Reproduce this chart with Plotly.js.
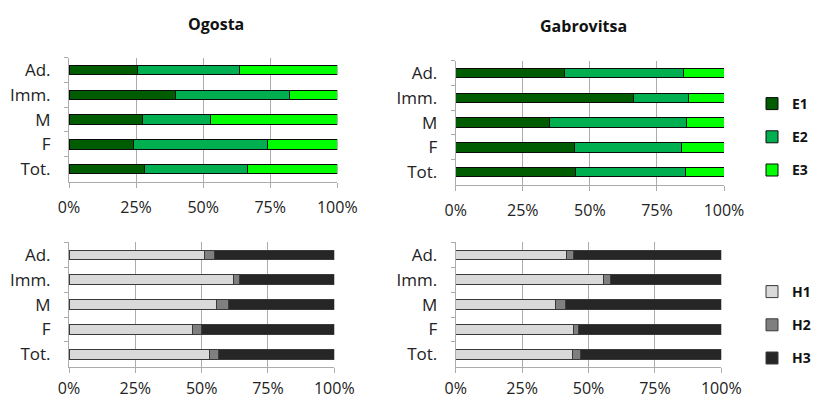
<!DOCTYPE html>
<html>
<head>
<meta charset="utf-8">
<script src="https://cdn.plot.ly/plotly-3.0.1.min.js"></script>
<style>
  html, body { margin: 0; padding: 0; background: #fff; }
  #chart { width: 814px; height: 398px; }
</style>
</head>
<body>
<div id="chart"></div>
<script>
// Categories, top to bottom
const categories = ['Ad.', 'Imm.', 'M', 'F', 'Tot.'];

// Share of E classes (%)
const ogostaE1 = [25.5, 39.8, 27.3, 24.0, 28.0];
const ogostaE2 = [38.0, 42.3, 25.6, 50.1, 38.5];
const ogostaE3 = [36.5, 17.9, 47.1, 25.9, 33.5];

const gabrovitsaE1 = [40.5, 66.2, 35.0, 44.2, 44.8];
const gabrovitsaE2 = [44.5, 20.6, 51.1, 39.9, 40.7];
const gabrovitsaE3 = [15.0, 13.2, 13.9, 15.9, 14.5];

// Share of H classes (%)
const ogostaH1 = [51.0, 61.9, 55.5, 46.4, 52.8];
const ogostaH2 = [4.0, 2.4, 4.5, 3.4, 3.7];
const ogostaH3 = [45.0, 35.7, 40.0, 50.2, 43.5];

const gabrovitsaH1 = [41.6, 55.6, 37.6, 44.5, 44.0];
const gabrovitsaH2 = [2.9, 2.7, 3.9, 1.9, 3.0];
const gabrovitsaH3 = [55.5, 41.7, 58.5, 53.6, 53.0];

const rivers = ['Ogosta', 'Gabrovitsa'];
const eNames = ['E1', 'E2', 'E3'];
const hNames = ['H1', 'H2', 'H3'];
const eColors = ['#005c00', '#00b050', '#00ff00'];
const hColors = ['#d9d9d9', '#7f7f7f', '#262626'];

const W = 814, H = 398;
const px = (a, b) => [a / W, b / W];
const py = (top, bottom) => [1 - bottom / H, 1 - top / H];

function bar(x, name, color, lineColor, xa, ya, legend, showlegend) {
  return {
    type: 'bar', orientation: 'h',
    x: x, y: categories, name: name,
    xaxis: xa, yaxis: ya,
    legend: legend, legendgroup: name, showlegend: showlegend,
    marker: { color: color, line: { color: lineColor, width: 1 } },
    hoverinfo: 'x+name'
  };
}

const traces = [];
const eSets = [[ogostaE1, ogostaE2, ogostaE3], [gabrovitsaE1, gabrovitsaE2, gabrovitsaE3]];
const hSets = [[ogostaH1, ogostaH2, ogostaH3], [gabrovitsaH1, gabrovitsaH2, gabrovitsaH3]];
eSets.forEach((set, r) => set.forEach((vals, i) => {
  traces.push(bar(vals, eNames[i], eColors[i], '#0a0a0a',
    r === 0 ? 'x' : 'x2', r === 0 ? 'y' : 'y2', 'legend', r === 0));
}));
hSets.forEach((set, r) => set.forEach((vals, i) => {
  traces.push(bar(vals, hNames[i], hColors[i], '#3a3a3a',
    r === 0 ? 'x3' : 'x4', r === 0 ? 'y3' : 'y4', 'legend2', r === 0));
}));

const xFont = { family: 'Open Sans, sans-serif', size: 16, color: '#222' };
const yFont = { family: 'Open Sans, sans-serif', size: 17, color: '#222' };
const gridColor = '#ababab';

function xAxis(domain, anchor, standoff) {
  return {
    domain: domain, anchor: anchor, range: [0, 100], dtick: 25, ticksuffix: '%',
    showgrid: true, gridcolor: gridColor, gridwidth: 1, zeroline: false,
    showline: true, linecolor: gridColor, linewidth: 1,
    ticks: 'outside', ticklen: 5, tickcolor: gridColor, automargin: false,
    ticklabelstandoff: standoff, tickfont: xFont, fixedrange: true
  };
}
function yAxis(domain, anchor) {
  return {
    domain: domain, anchor: anchor, type: 'category', autorange: 'reversed',
    showline: true, linecolor: gridColor, linewidth: 1, showgrid: false,
    ticks: 'outside', ticklen: 4, tickcolor: gridColor, tickson: 'boundaries',
    automargin: false,
    ticklabelstandoff: 14, tickfont: yFont, fixedrange: true
  };
}

const legendBase = {
  xref: 'paper', yref: 'paper', xanchor: 'left', yanchor: 'top',
  font: { family: 'Open Sans, sans-serif', size: 14, color: '#111', weight: 'bold' },
  tracegroupgap: 12, bgcolor: 'rgba(0,0,0,0)', traceorder: 'grouped'
};

const layout = {
  width: W, height: H,
  margin: { l: 0, r: 0, t: 0, b: 0, autoexpand: false },
  paper_bgcolor: '#fff', plot_bgcolor: '#fff',
  barmode: 'stack', bargap: 0.62,
  showlegend: true,
  xaxis: xAxis(px(69, 337.3), 'y', 6),
  yaxis: yAxis(py(57.6, 181.5), 'x'),
  xaxis2: xAxis(px(455.7, 724), 'y2', 6),
  yaxis2: yAxis(py(60.6, 184.5), 'x2'),
  xaxis3: xAxis(px(69, 334.3), 'y3', 2),
  yaxis3: yAxis(py(242.3, 366.8), 'x3'),
  xaxis4: xAxis(px(455.7, 721.3), 'y4', 2),
  yaxis4: yAxis(py(242.3, 366.8), 'x4'),
  legend: Object.assign({ x: 752 / W, y: 1 - 88 / H }, legendBase),
  legend2: Object.assign({ x: 752 / W, y: 1 - 276 / H }, legendBase),
  annotations: [
    { text: rivers[0], x: 216 / W, y: 1 - 24 / H },
    { text: rivers[1], x: 583 / W, y: 1 - 26 / H }
  ].map(a => Object.assign({
    xref: 'paper', yref: 'paper', showarrow: false,
    xanchor: 'center', yanchor: 'middle',
    font: { family: 'Open Sans, sans-serif', size: 16, color: '#111', weight: 'bold' }
  }, a))
};

Plotly.newPlot('chart', traces, layout, { displayModeBar: false, staticPlot: true });
</script>
</body>
</html>
